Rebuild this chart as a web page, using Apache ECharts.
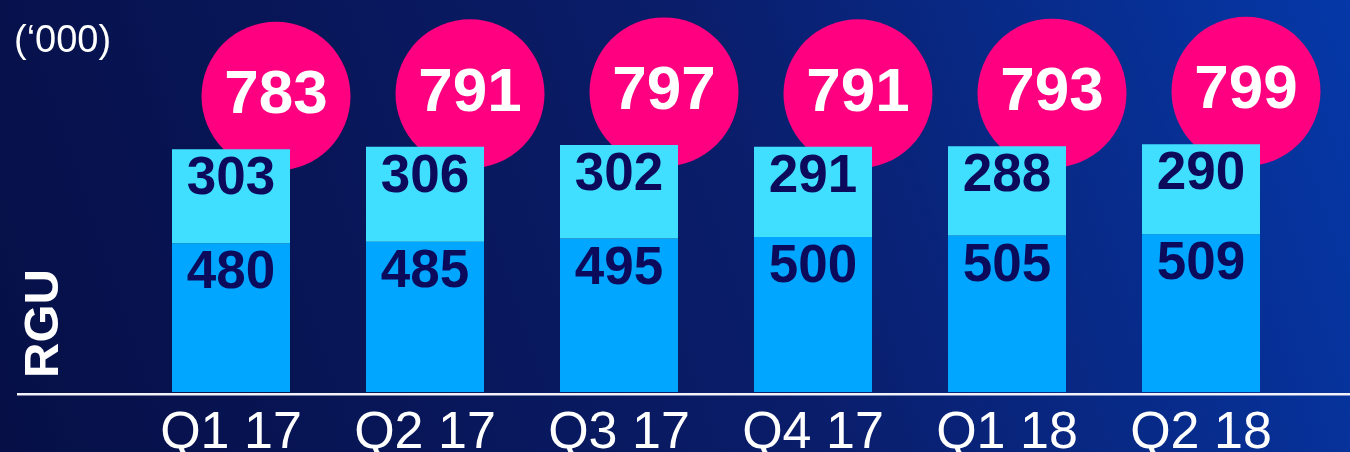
<!DOCTYPE html>
<html>
<head>
<meta charset="utf-8">
<script src="https://cdn.jsdelivr.net/npm/echarts@6/dist/echarts.min.js"></script>
<style>
  html, body { margin: 0; padding: 0; }
  #chart { width: 1350px; height: 452px; }
</style>
</head>
<body>
<div id="chart"></div>
<script>
// data ('000 RGU)
const quarters = ['Q1 17', 'Q2 17', 'Q3 17', 'Q4 17', 'Q1 18', 'Q2 18']
const lowerValues = [480, 485, 495, 500, 505, 509]
const upperValues = [303, 306, 302, 291, 288, 290]
const totals = [783, 791, 797, 791, 793, 799]

const fontFam = "'Liberation Sans Narrow', 'Liberation Sans', sans-serif"
const navyText = '#0c0a5a'

const chart = echarts.init(document.getElementById('chart'))

const option = {
  backgroundColor: new echarts.graphic.LinearGradient(0, 1, 1, 0, [
    { offset: 0, color: '#060f46' },
    { offset: 0.55, color: '#0a1d6a' },
    { offset: 1, color: '#0538a8' },
  ]),
  animation: false,
  grid: {
    left: 134,
    right: 52,
    top: 82,
    bottom: 60,
    outerBoundsMode: 'none',
  },
  xAxis: {
    type: 'category',
    data: quarters,
    axisLine: { show: false },
    axisTick: { show: false },
    axisLabel: {
      interval: 0,
      color: '#ffffff',
      fontFamily: fontFam,
      fontSize: 52,
      margin: 16,
    },
  },
  yAxis: {
    type: 'value',
    min: 0,
    max: 1000,
    show: false,
  },
  graphic: [
    {
      type: 'line',
      shape: { x1: 17, y1: 394.3, x2: 1350, y2: 394.3 },
      style: { stroke: '#f2f2f8', lineWidth: 2.5 },
    },
    {
      type: 'text',
      x: 14,
      y: 42,
      style: {
        text: '(\u2018000)',
        fill: '#ffffff',
        font: "38px 'Liberation Sans', sans-serif",
        textVerticalAlign: 'middle',
      },
    },
    {
      type: 'text',
      x: 44,
      y: 323.5,
      rotation: Math.PI / 2,
      style: {
        text: 'RGU',
        fill: '#ffffff',
        font: 'bold 49px ' + fontFam,
        textAlign: 'center',
        textVerticalAlign: 'middle',
      },
    },
  ],
  series: [
    {
      name: 'total',
      type: 'scatter',
      data: totals,
      z: 1,
      symbol: 'circle',
      symbolSize: 149,
      symbolOffset: [45, -53],
      itemStyle: { color: '#ff0080', opacity: 1 },
      label: {
        show: true,
        position: 'inside',
        color: '#ffffff',
        fontFamily: fontFam,
        fontWeight: 'bold',
        fontSize: 62,
      },
    },
    {
      name: 'lower',
      type: 'bar',
      stack: 'rgu',
      z: 3,
      barWidth: 118,
      data: lowerValues,
      itemStyle: { color: '#00a6ff' },
      label: {
        show: true,
        position: 'insideTop',
        distance: 4,
        color: navyText,
        fontFamily: fontFam,
        fontWeight: 'bold',
        fontSize: 53,
      },
    },
    {
      name: 'upper',
      type: 'bar',
      stack: 'rgu',
      z: 3,
      barWidth: 118,
      data: upperValues,
      itemStyle: { color: '#40dfff' },
      label: {
        show: true,
        position: 'insideTop',
        distance: 4,
        color: navyText,
        fontFamily: fontFam,
        fontWeight: 'bold',
        fontSize: 53,
      },
    },
  ],
}

chart.setOption(option)
window.addEventListener('resize', () => chart.resize())
</script>
</body>
</html>
